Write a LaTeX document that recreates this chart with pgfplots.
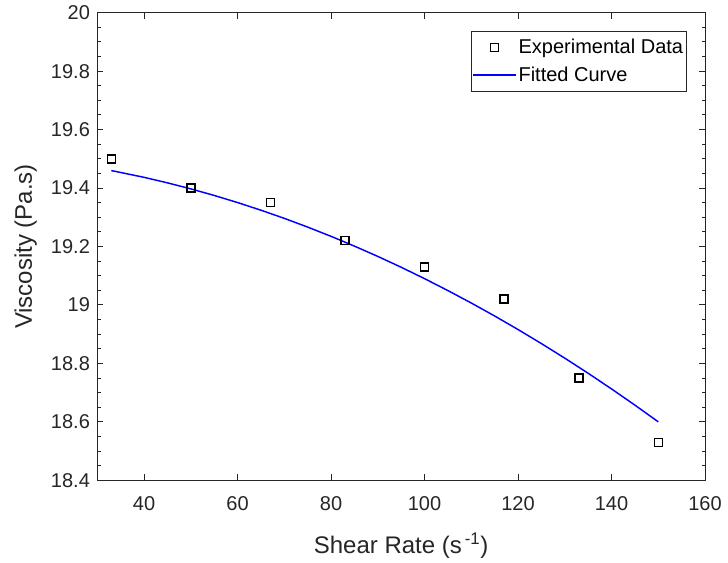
\documentclass[border=0pt]{standalone}
\usepackage{fontspec}
\setmainfont{Liberation Sans}
\usepackage{pgfplots}
\pgfplotsset{compat=1.18}
\definecolor{axgray}{RGB}{38,38,38}
\pgfplotsset{
  marklegend/.style={legend image code/.code={\draw[mark repeat=2,mark phase=2,##1] plot coordinates {(0pt,0pt) (16pt,0pt) (32pt,0pt)};}},
  linelegend/.style={legend image code/.code={\draw[##1] (0pt,0pt) -- (32pt,0pt);}},
}
\begin{document}
\begin{tikzpicture}[x=1pt,y=1pt]
\path[use as bounding box] (-72.975,-62.025) rectangle (473.025,360.225);
\begin{axis}[
  at={(0,0)}, anchor=south west,
  scale only axis, width=455.8pt, height=350.7pt,
  xmin=30, xmax=160, ymin=18.4, ymax=20,
  xtick={40,60,80,100,120,140,160},
  ytick={18.4,18.6,18.8,19,19.2,19.4,19.6,19.8,20},
  minor y tick num=3,
  tick align=inside,
  major tick length=4.5pt, minor tick length=2.5pt,
  axis line style={axgray, line width=0.75pt},
  every tick/.style={axgray, line width=0.75pt},
  tick label style={font=\fontsize{15}{18}\selectfont, text=axgray},
  /pgf/number format/assume math mode=true,
  scaled ticks=false,
  yticklabel style={xshift=-2pt},
  xticklabel style={yshift=-9pt},
  xlabel={Shear Rate (s\hspace{0.12em}\textsuperscript{-1})},
  ylabel={Viscosity (Pa.s)},
  every axis x label/.style={at={([yshift=-54.75pt]axis description cs:0.5,0)}, anchor=base,
    font=\fontsize{18}{21}\selectfont, text=axgray},
  every axis y label/.style={at={([xshift=-49pt]axis description cs:0,0.5)}, anchor=base, rotate=90,
    font=\fontsize{18}{21}\selectfont, text=axgray},
  legend cell align=left,
  legend style={at={(1,1)}, anchor=north east, xshift=-13.7pt, yshift=-13.5pt,
    draw=axgray, line width=0.5pt, fill=white,
    font=\fontsize{15}{18}\selectfont,
    inner xsep=1pt, inner ysep=4.5pt, row sep=5.3pt,
    nodes={inner sep=1.5pt}},
]
\addplot[only marks, mark=square, mark size=3pt, mark options={line width=1.1pt, draw=black}, marklegend]
coordinates {
(33,19.50) (50,19.40) (67,19.35) (83,19.22) (100,19.13) (117,19.02) (133,18.75) (150,18.53)
};
\addlegendentry{Experimental Data}
\addplot[blue, line width=1.1pt, no marks, linelegend]
coordinates {
(33,19.4598) (40,19.4367) (45,19.4178) (50,19.3972) (55,19.3747) (60,19.3504)
(65,19.3242) (70,19.2963) (75,19.2664) (80,19.2348) (85,19.2013) (90,19.1661)
(95,19.1290) (100,19.0900) (105,19.0492) (110,19.0066) (115,18.9622) (120,18.9159)
(125,18.8678) (130,18.8179) (135,18.7662) (140,18.7126) (145,18.6572) (150,18.6000)
};
\addlegendentry{Fitted Curve}
\end{axis}
\end{tikzpicture}
\end{document}
